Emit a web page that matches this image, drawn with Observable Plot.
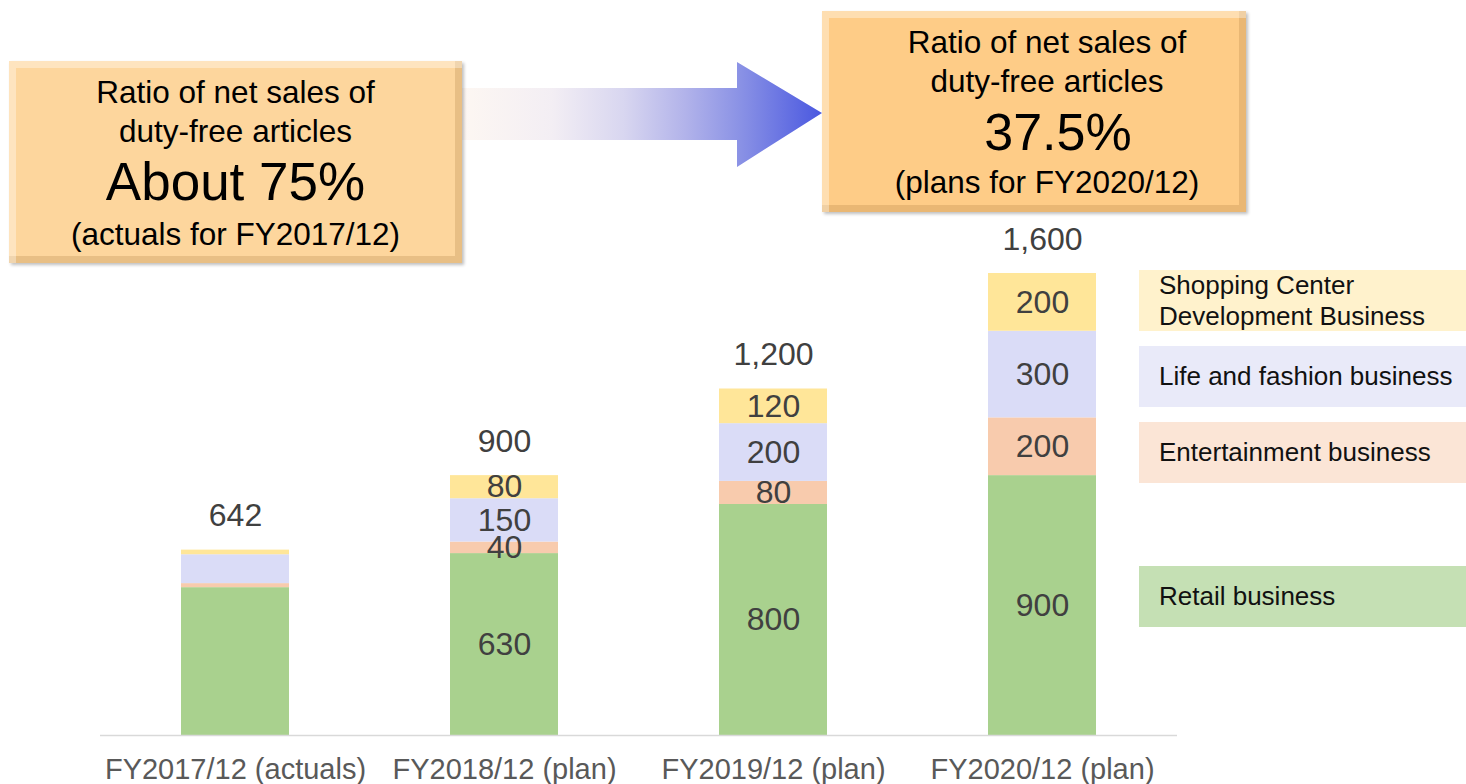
<!DOCTYPE html>
<html>
<head>
<meta charset="utf-8">
<script src="https://cdn.jsdelivr.net/npm/d3@7"></script>
<script src="https://cdn.jsdelivr.net/npm/@observablehq/plot@0.6"></script>
<style>
  html, body { margin: 0; padding: 0; background: #fff; }
  #wrap { position: relative; width: 1466px; height: 784px; overflow: hidden; font-family: "Liberation Sans", Arial, sans-serif; }
  #chart { position: absolute; left: 0; top: 0; }
  .callout { position: absolute; box-sizing: border-box; text-align: center; color: #000;
    box-shadow: inset 7px 7px 0 rgba(255,255,255,0.35), inset -7px -7px 0 rgba(160,110,50,0.22), 2px 2px 3px rgba(0,0,0,0.25); }
  .callout div { white-space: nowrap; }
  .arrow { position: absolute; left: 462px; top: 62px; width: 360px; height: 105px;
    clip-path: polygon(0 26px, 275px 26px, 275px 0, 360px 51px, 275px 105px, 275px 78px, 0 78px);
    background: linear-gradient(to right, #fdf7f2 0%, #f3eef4 25%, #d8d6f0 45%, #b2b3ea 62%, #8890e5 78%, #4a58e0 100%); }
  .legend { position: absolute; left: 1139px; width: 327px; height: 61px; box-sizing: border-box;
    padding-left: 20px; padding-right: 8px; display: flex; align-items: center; font-size: 26px; line-height: 31px; color: #111; }
</style>
</head>
<body>
<div id="wrap">
  <div id="chart"></div>
  <div class="arrow"></div>
  <div class="callout" id="boxL" style="left:9px;top:61px;width:453px;height:202px;background:#fdd69d;padding-top:12px;">
    <div style="font-size:31.5px;line-height:39px;">Ratio of net sales of</div>
    <div style="font-size:31.5px;line-height:39px;">duty-free articles</div>
    <div style="font-size:53px;line-height:61px;">About 75%</div>
    <div style="font-size:31.5px;line-height:44px;">(actuals for FY2017/12)</div>
  </div>
  <div class="callout" id="boxR" style="left:822px;top:11px;width:424px;height:201px;background:#fecc87;padding-top:12px;padding-left:26px;">
    <div style="font-size:31.5px;line-height:39px;">Ratio of net sales of</div>
    <div style="font-size:31.5px;line-height:39px;">duty-free articles</div>
    <div style="font-size:52px;line-height:62px;padding-left:22px;">37.5%</div>
    <div style="font-size:31.5px;line-height:38px;">(plans for FY2020/12)</div>
  </div>
  <div id="legend"></div>
</div>
<script>
// ---- data ----
const years = ["FY2017/12 (actuals)", "FY2018/12 (plan)", "FY2019/12 (plan)", "FY2020/12 (plan)"];
const segments = ["Retail business", "Entertainment business", "Life and fashion business", "Shopping Center Development Business"];
const retail = [512, 630, 800, 900];
const entertainment = [14, 40, 80, 200];
const lifeFashion = [100, 150, 200, 300];
const shoppingCenter = [16, 80, 120, 200];
const totals = [642, 900, 1200, 1600];

const barColors = ["#a9d18e", "#f8cbad", "#dadcf7", "#ffe699"];
const legendColors = ["#c5e0b4", "#fbe5d6", "#e9eaf9", "#fff2cc"];

const seriesValues = [retail, entertainment, lifeFashion, shoppingCenter];
const rows = [];
years.forEach((yr, i) => {
  segments.forEach((seg, j) => {
    rows.push({year: yr, segment: seg, value: seriesValues[j][i]});
  });
});
const totalRows = years.map((yr, i) => ({year: yr, total: totals[i]}));

const chart = Plot.plot({
  width: 1466,
  height: 784,
  marginLeft: 100,
  marginRight: 289,
  marginTop: 273,
  marginBottom: 49,
  style: {fontFamily: "'Liberation Sans', Arial, sans-serif", background: "transparent", overflow: "visible"},
  x: {domain: years, paddingInner: 0.6, paddingOuter: 0.3, label: null},
  y: {domain: [0, 1600], axis: null},
  color: {domain: segments, range: barColors},
  marks: [
    Plot.barY(rows, Plot.stackY({x: "year", y: "value", z: "segment", fill: "segment", order: segments})),
    Plot.text(rows, Plot.stackY({
      x: "year", y: "value", z: "segment", order: segments,
      text: d => d.year === years[0] ? "" : d3.format(",")(d.value),
      fontSize: 32, fill: "#404040"
    })),
    Plot.text(totalRows, {x: "year", y: "total", text: d => d3.format(",")(d.total), dy: -34, fontSize: 32, fill: "#404040"}),
    Plot.ruleY([0], {stroke: "#d9d9d9", strokeWidth: 1.5}),
    Plot.axisX({tickSize: 0, tickPadding: 23, fontSize: 29, color: "#595959", label: null})
  ]
});
document.getElementById("chart").appendChild(chart);

// ---- legend (custom placed boxes at right) ----
const legendTops = [566, 422, 346, 270];
const legend = document.getElementById("legend");
segments.forEach((seg, j) => {
  const d = document.createElement("div");
  d.className = "legend";
  d.style.top = legendTops[j] + "px";
  d.style.background = legendColors[j];
  d.textContent = seg;
  legend.appendChild(d);
});
</script>
</body>
</html>
